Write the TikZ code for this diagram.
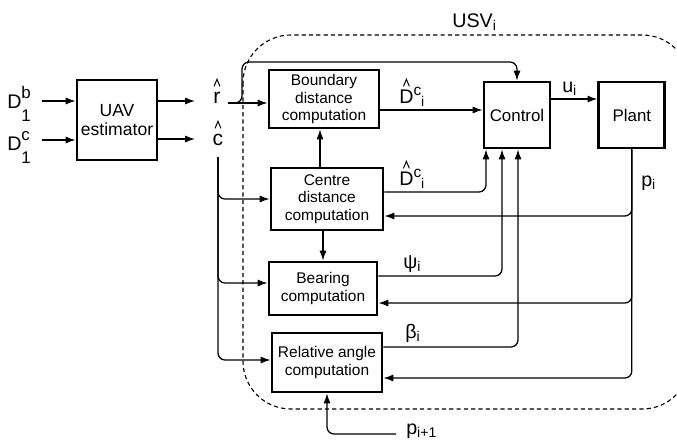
\documentclass[tikz,border=0pt]{standalone}
\usepackage{fontspec}
\setmainfont{Liberation Sans}
\usetikzlibrary{arrows.meta,positioning}

% small caret drawn over a letter
\newcommand{\hatted}[1]{\ooalign{#1\cr\hidewidth\raisebox{11.5pt}{\tikz[x=1pt,y=1pt]\draw[line width=0.7pt] (0,0) -- (2.1,5) -- (4.2,0);}\hidewidth\cr}}
% stacked super- and subscript
\newcommand{\supsub}[2]{\makebox[0pt][l]{\raisebox{7pt}{\fontsize{12}{12}\selectfont #1}}\raisebox{-9.3pt}{\fontsize{12}{12}\selectfont #2}}
\newcommand{\sbs}[1]{\raisebox{-2.5pt}{\fontsize{10}{10}\selectfont #1}}
\newcommand{\spr}[1]{\raisebox{5.5pt}{\fontsize{11}{11}\selectfont #1}}

\begin{document}
\begin{tikzpicture}[x=0.025cm, y=-0.025cm,
    block/.style={draw, line width=2pt, align=center, inner sep=1pt},
    comp/.style={block, font=\fontsize{11}{12.5}\selectfont},
    conn/.style={line width=0.9pt, -{Latex[length=7pt, width=5pt]}},
    feed/.style={conn, rounded corners=5pt},
    lbl/.style={inner sep=0pt, anchor=base west, font=\fontsize{14}{16}\selectfont},
    usvbox/.style={line width=0.8pt, dash pattern=on 3pt off 2.2pt, rounded corners=34pt}]

\useasboundingbox (0,0) rectangle (677,442);

% USV boundary
\draw[usvbox] (243,35) rectangle (690,409);
\node[lbl] (usv) at (452,27) {USV\sbs{i}};

% estimator and its inputs
\node[block, minimum width=2cm, minimum height=2cm, font=\fontsize{12.5}{14}\selectfont] (uav) at (117,120) {UAV\\estimator};
\node[lbl] (db) at (7,108) {D\supsub{b}{1}};
\node[lbl] (dc) at (7,150) {D\supsub{c}{1}};
\node[lbl, anchor=base, font=\fontsize{15}{16}\selectfont] (rh) at (217,103) {\hatted{r}};
\node[lbl, anchor=base, font=\fontsize{15}{16}\selectfont] (ch) at (218,145) {\hatted{c}};

\coordinate (bstart) at (42,101);
\coordinate (cstart) at (42,140);
\coordinate (rin) at (195,101);
\coordinate (cin) at (195,139);
\coordinate (rout) at (228,103);
\coordinate (rbend) at (242,62);
\coordinate (cdown) at (218,157);

\draw[conn] (bstart) -- (bstart -| uav.west);
\draw[conn] (cstart) -- (cstart -| uav.west);
\draw[conn] (uav.east |- rin) -- (rin);
\draw[conn] (uav.east |- cin) -- (cin);

% computation blocks
\node[comp, minimum width=2.75cm, minimum height=1.45cm] (bnd) at (324,99) {Boundary\\distance\\computation};
\node[comp, minimum width=2.8cm, minimum height=1.55cm] (ctr) at (327,199) {Centre\\distance\\computation};
\node[comp, minimum width=2.7cm, minimum height=1.325cm] (brg) at (323,288.5) {Bearing\\computation};
\node[comp, minimum width=2.75cm, minimum height=1.475cm] (rel) at (327,362.5) {Relative angle\\computation};
\node[block, minimum size=1.65cm, font=\fontsize{12}{14}\selectfont] (ctl) at (517,115) {Control};
\node[block, minimum size=1.65cm, right=1.15cm of ctl, font=\fontsize{12}{14}\selectfont] (plt) {Plant};

% r and c into the blocks
\draw[conn] (rout) -- (rout -| bnd.west);
\draw[feed] (rout) -| (rbend) -| (ctl.north);
\draw[feed] (cdown) |- (ctr.west |- 0,199);
\draw[feed] (cdown) |- (brg.west |- 0,283);
\draw[feed] (cdown) |- (rel.west |- 0,360);

% blocks into control
\draw[conn] (bnd.east |- 0,110) -- (ctl.west |- 0,110);
\node[lbl] (dbnd) at (399,103) {\hatted{D}\spr{c}\sbs{i}};
\draw[conn] (ctr.north -| 320,0) -- (bnd.south -| 320,0);
\draw[conn] (ctr.south -| brg.north) -- (brg.north);
\draw[feed] (ctr.east |- 0,192) -| (ctl.south -| 486,0);
\node[lbl] (dctr) at (399,185) {\hatted{D}\spr{c}\sbs{i}};
\draw[feed] (brg.east |- 0,276) -| (ctl.south -| 502,0);
\node[lbl] (psi) at (403,268) {ψ\sbs{i}};
\draw[feed] (rel.east |- 0,347) -| (ctl.south -| 518,0);
\node[lbl] (beta) at (405,338) {β\sbs{i}};

% control to plant and the feedback
\draw[conn] (ctl.east |- 0,99) -- (plt.west |- 0,99);
\node[lbl] (u) at (562,92) {u\sbs{i}};
\draw[feed] (plt.south) |- (ctr.east |- 0,216);
\draw[feed] (plt.south) |- (brg.east |- 0,303);
\draw[feed] (plt.south) |- (rel.east |- 0,378);
\node[lbl] (p) at (641,186) {p\sbs{i}};

% neighbour position
\coordinate (pnext) at (396,434);
\draw[feed] (pnext) -| (rel.south);
\node[lbl] (pn) at (406,434) {p\sbs{i+1}};
\end{tikzpicture}
\end{document}
